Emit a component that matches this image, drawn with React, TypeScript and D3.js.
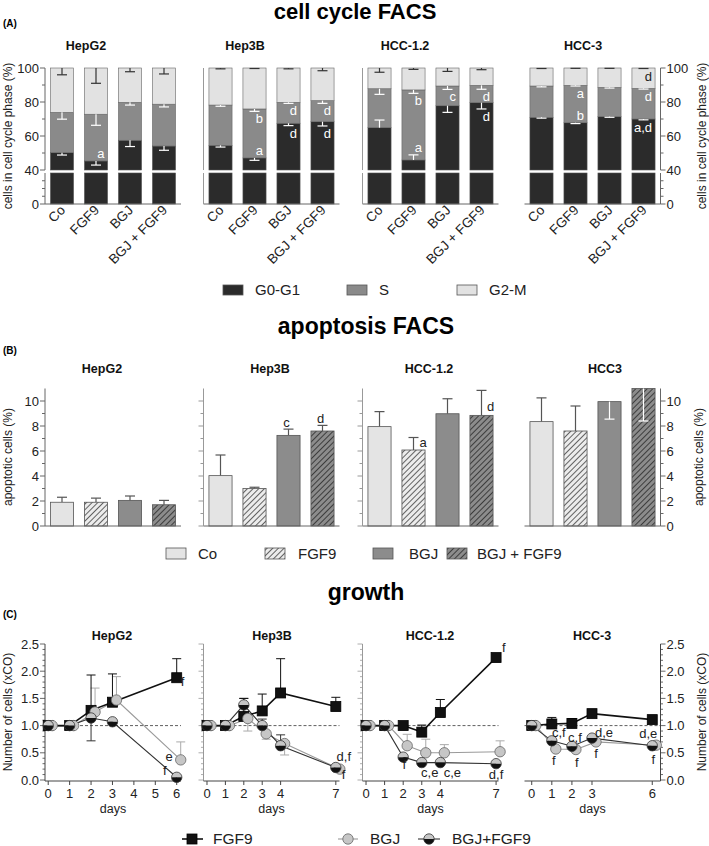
import React from "react";
import * as d3 from "d3";

// ---------------- DATA ----------------
const cellLinesA = ["HepG2", "Hep3B", "HCC-1.2", "HCC-3"];
const cellLinesB = ["HepG2", "Hep3B", "HCC-1.2", "HCC3"];
const cellLinesC = ["HepG2", "Hep3B", "HCC-1.2", "HCC-3"];
const treatments = ["Co", "FGF9", "BGJ", "BGJ + FGF9"];
const phases = ["G0-G1", "S", "G2-M"];

// (A) cell cycle phase percentages [cell line][treatment]
const g0g1Pct = [
  [50.2, 45.3, 57.5, 54.1],
  [54.5, 47.1, 67.5, 68.4],
  [64.9, 45.9, 77.8, 79.6],
  [71.0, 67.8, 71.4, 70.0],
];
const sPct = [
  [23.7, 27.5, 22.3, 24.6],
  [23.7, 28.8, 12.3, 12.4],
  [22.9, 41.2, 11.6, 10.2],
  [18.4, 22.0, 17.2, 18.0],
];
const g2mPct = [
  [26.1, 27.2, 20.2, 21.3],
  [21.8, 24.1, 20.2, 19.2],
  [12.2, 12.9, 10.6, 10.2],
  [10.6, 10.2, 11.4, 12.0],
];
// signed SD (negative = drawn downward)
const g0g1Err = [
  [-1.4, -2.4, -3.7, -2.5],
  [-1.0, -1.4, -1.4, -2.5],
  [4.5, 3.0, -3.9, -3.7],
  [-0.5, -0.5, -0.4, -0.5],
];
const sErr = [
  [-4.0, -6.5, -1.6, -1.6],
  [-0.7, -1.4, -0.6, -1.6],
  [-3.3, -2.0, -2.0, -2.3],
  [-0.5, -0.4, -0.4, -0.4],
];
const g2mErr = [
  [-4.0, -9.0, -2.2, -3.5],
  [-0.5, -0.3, -0.5, -1.6],
  [-2.5, -0.8, -2.0, -1.0],
  [-0.3, -0.2, -0.2, -0.3],
];
// significance letters: [line, treatment, phase, text, side]
const cycleLetters: [number, number, number, string, string][] = [
  [0, 1, 0, "a", "above"],
  [1, 1, 0, "a", "above"],
  [1, 1, 1, "b", "below"],
  [1, 2, 0, "d", "below"],
  [1, 2, 1, "d", "below"],
  [1, 3, 0, "d", "below"],
  [1, 3, 1, "d", "below"],
  [2, 1, 0, "a", "above"],
  [2, 1, 1, "b", "below"],
  [2, 2, 1, "c", "below"],
  [2, 3, 0, "d", "below"],
  [2, 3, 1, "d", "below"],
  [3, 1, 0, "b", "above"],
  [3, 1, 1, "a", "below"],
  [3, 3, 0, "a,d", "below"],
  [3, 3, 1, "d", "below"],
  [3, 3, 2, "d", "below"],
];

// (B) apoptotic cells (%)
const apoptosis = [
  [1.9, 1.9, 2.05, 1.7],
  [4.03, 3.0, 7.25, 7.6],
  [7.95, 6.08, 8.98, 8.85],
  [8.35, 7.6, 9.95, 11.0],
];
const apoptosisErr = [
  [0.4, 0.33, 0.35, 0.35],
  [1.65, 0.1, 0.5, 0.45],
  [1.2, 1.0, 1.2, 2.0],
  [1.9, 2.0, -1.4, -2.6],
];
const apoptosisLetters: [number, number, string, string][] = [
  [1, 2, "c", "cap"],
  [1, 3, "d", "cap"],
  [2, 1, "a", "capRight"],
  [2, 3, "d", "barRight"],
];

// (C) growth, number of cells (xCO)
const growthDays = [
  [0, 1, 2, 3, 6],
  [0, 1, 2, 3, 4, 7],
  [0, 1, 2, 3, 4, 7],
  [0, 1, 2, 3, 6],
];
const growthXTicks = [
  [0, 1, 2, 3, 4, 5, 6],
  [0, 1, 2, 3, 4, 7],
  [0, 1, 2, 3, 4, 7],
  [0, 1, 2, 3, 6],
];
const growthFGF9 = [
  [1, 1, 1.28, 1.43, 1.88],
  [1, 1, 1.17, 1.27, 1.6, 1.35],
  [1, 1, 1.0, 0.88, 1.24, 2.25],
  [1, 1.03, 1.04, 1.22, 1.11],
];
const growthFGF9Err = [
  [0, 0, 0.65, 0.52, 0.35],
  [0, 0, 0.33, 0.31, 0.63, 0.17],
  [0, 0, 0, 0.13, 0.24, 0],
  [0, 0.12, 0.09, 0.04, 0.03],
];
const growthBGJ = [
  [1, 1, 1.25, 1.47, 0.37],
  [1, 1, 1.13, 0.85, 0.67, 0.2],
  [1, 1, 0.63, 0.5, 0.5, 0.52],
  [1, 0.57, 0.56, 0.7, 0.64],
];
const growthBGJErr = [
  [0, 0, 0.44, 0.43, 0.33],
  [0, 0, -0.23, -0.1, -0.21, -0.05],
  [0, 0, 0.21, 0.25, 0.15, 0.2],
  [0, 0, 0, 0, 0],
];
const growthCombo = [
  [1, 1, 1.14, 1.07, 0.05],
  [1, 1, 1.38, 1.0, 0.63, 0.23],
  [1, 1, 0.42, 0.32, 0.32, 0.3],
  [1, 0.72, 0.62, 0.77, 0.63],
];
const growthComboErr = [
  [0, 0, -0.42, 0, 0],
  [0, 0, 0.12, 0.12, 0.2, 0],
  [0, 0, 0, 0, 0, 0],
  [0, 0, 0, 0, 0],
];
// letters: [line, series, point index, text, anchor, dx, dy]
const growthLetters: [number, string, number, string, string, number, number][] = [
  [0, "FGF9", 4, "f", "start", 4, 8],
  [0, "BGJ", 4, "e", "end", -8, 1],
  [0, "combo", 4, "f", "end", -10, -2],
  [1, "combo", 5, "d,f", "middle", 8, -6],
  [1, "BGJ", 5, "f", "start", 2, 10],
  [2, "FGF9", 5, "f", "start", 6, -6],
  [2, "combo", 2, "f", "middle", 1, 12],
  [2, "combo", 3, "c,e", "middle", 8, 14.5],
  [2, "combo", 4, "c,e", "middle", 12, 14.5],
  [2, "combo", 5, "d,f", "middle", 0, 15],
  [3, "combo", 1, "c,f", "middle", 7, -4],
  [3, "BGJ", 1, "f", "middle", -2, 16.5],
  [3, "combo", 2, "c,f", "middle", 3, -4],
  [3, "BGJ", 2, "f", "middle", 1, 17],
  [3, "combo", 3, "d,e", "middle", 12, -1],
  [3, "BGJ", 3, "f", "middle", 0, 16.5],
  [3, "combo", 4, "d,e", "middle", -4, -8],
  [3, "BGJ", 4, "f", "middle", -3, 19],
];

// ---------------- LAYOUT ----------------
const FONT = "'Liberation Sans', Arial, Helvetica, sans-serif";
const plotX0 = [45, 203.5, 362.5, 524.5];
const plotW = 136;
const phaseColors = ["#2b2b2b", "#8a8a8a", "#e2e2e2"];
const axisCol = "#666";
const textCol = "#222";

function ErrBar({ x, y1, y2, color, w = 10, sw = 1.2 }: any) {
  return (
    <g stroke={color} strokeWidth={sw}>
      <line x1={x} x2={x} y1={y1} y2={y2} />
      <line x1={x - w / 2} x2={x + w / 2} y1={y2} y2={y2} />
    </g>
  );
}

function PanelA() {
  const yUp = d3.scaleLinear().domain([40, 100]).range([170, 68]);
  const yLo = d3.scaleLinear().domain([0, 40]).range([204, 173]);
  const yA = (v: number) => (v >= 40 ? yUp(v) : yLo(v));
  const titleX = [86, 245, 405, 583];
  const els: any[] = [];
  cellLinesA.forEach((cl, i) => {
    const x0 = plotX0[i];
    const xb = d3.scaleBand().domain(treatments).range([x0, x0 + plotW]).paddingInner(0.32).paddingOuter(0.16);
    const rows = treatments.map((t, j) => ({ t, "G0-G1": g0g1Pct[i][j], S: sPct[i][j], "G2-M": g2mPct[i][j] }));
    const stack = d3.stack<any>().keys(phases)(rows);
    const errs = [g0g1Err, sErr, g2mErr];
    els.push(
      <text key={"ta" + i} x={titleX[i]} y={50} textAnchor="middle" fontWeight="bold" fontSize={12.5} fill="#111">{cl}</text>
    );
    stack.forEach((layer, k) => {
      layer.forEach((d: any, j: number) => {
        const x = xb(treatments[j])!;
        const bw = xb.bandwidth();
        if (k === 0) {
          els.push(<rect key={`lo${i}${j}`} x={x} y={yLo(40)} width={bw} height={yLo(0) - yLo(40)} fill={phaseColors[0]} stroke="#555" strokeWidth={0.6} />);
          els.push(<rect key={`b${i}${j}${k}`} x={x} y={yUp(d[1])} width={bw} height={yUp(40) - yUp(d[1])} fill={phaseColors[0]} stroke="#555" strokeWidth={0.6} />);
        } else {
          els.push(<rect key={`b${i}${j}${k}`} x={x} y={yUp(d[1])} width={bw} height={yUp(d[0]) - yUp(d[1])} fill={phaseColors[k]} stroke="#666" strokeWidth={0.6} />);
        }
      });
    });
    stack.forEach((layer, k) => {
      layer.forEach((d: any, j: number) => {
        const cx = xb(treatments[j])! + xb.bandwidth() / 2;
        const e = errs[k][i][j];
        const top = Math.min(d[1], 100);
        els.push(<ErrBar key={`e${i}${j}${k}`} x={cx} y1={yA(top)} y2={yA(top + e)} color={k < 2 ? "#fff" : "#333"} w={10} />);
      });
    });
    cycleLetters.filter((l) => l[0] === i).forEach((l, n) => {
      const [, j, k, txt, side] = l;
      const d: any = stack[k][j];
      const top = d[1];
      const e = errs[k][i][j];
      const ePx = Math.abs(yA(top + e) - yA(top));
      const right = xb(treatments[j])! + xb.bandwidth() - 3;
      const y = side === "above" ? yA(top) - 3 - (e > 0 ? ePx : 0) : yA(top) + 12 + (e < 0 ? ePx : 0);
      els.push(<text key={`l${i}${n}`} x={right} y={y} textAnchor="end" fontSize={13} fill={k === 2 ? "#222" : "#fff"}>{txt}</text>);
    });
    els.push(<line key={"xb" + i} x1={x0} x2={x0 + plotW} y1={204} y2={204} stroke={axisCol} strokeWidth={1} />);
    treatments.forEach((t, j) => {
      const cx = xb(t)! + xb.bandwidth() / 2;
      els.push(
        <text key={`xl${i}${j}`} transform={`translate(${cx + 4},${211}) rotate(-45)`} textAnchor="end" fontSize={13.5} fill={textCol}>{t}</text>
      );
    });
    if (i === 0 || i === 3) {
      const ax = i === 0 ? x0 : x0 + plotW;
      const s = i === 0 ? -1 : 1;
      els.push(<line key={"ya1" + i} x1={ax} x2={ax} y1={yUp(100)} y2={yUp(40)} stroke={axisCol} />);
      els.push(<line key={"ya2" + i} x1={ax} x2={ax} y1={yLo(40)} y2={yLo(0)} stroke={axisCol} />);
      [0, 10, 20, 30, 40, 50, 60, 70, 80, 90, 100].forEach((v) => {
        const major = [0, 40, 60, 80, 100].includes(v);
        const y = yA(v);
        els.push(<line key={`yt${i}${v}`} x1={ax} x2={ax + s * (major ? 5 : 3)} y1={y} y2={y} stroke={axisCol} />);
        if (major)
          els.push(
            <text key={`ytl${i}${v}`} x={ax + s * 6} y={y} dy="0.35em" textAnchor={i === 0 ? "end" : "start"} fontSize={13} fill={textCol}>{v}</text>
          );
      });
    } else {
      els.push(<line key={"ya1" + i} x1={x0} x2={x0} y1={yUp(100)} y2={yUp(40)} stroke="#999" />);
      els.push(<line key={"ya2" + i} x1={x0} x2={x0} y1={yLo(40)} y2={yLo(0)} stroke="#999" />);
    }
  });
  els.push(<text key="yl" transform={`translate(12,136) rotate(-90)`} textAnchor="middle" fontSize={12} fill={textCol}>cells in cell cycle phase (%)</text>);
  els.push(<text key="yr" transform={`translate(706,136) rotate(-90)`} textAnchor="middle" fontSize={12} fill={textCol}>cells in cell cycle phase (%)</text>);
  const legX = [223, 347, 457];
  phases.forEach((p, k) => {
    els.push(<rect key={"lg" + k} x={legX[k]} y={285} width={20} height={10} fill={phaseColors[k]} stroke="#555" strokeWidth={0.8} />);
    els.push(<text key={"lgt" + k} x={legX[k] + 32} y={290} dy="0.35em" fontSize={15} fill={textCol}>{p}</text>);
  });
  return <g>{els}</g>;
}

function PanelB() {
  const y = d3.scaleLinear().domain([0, 11]).range([526, 388.5]);
  const fills = ["#e4e4e4", "url(#hatchLight)", "#8c8c8c", "url(#hatchDark)"];
  const titleX = [102, 270, 429, 605];
  const els: any[] = [];
  cellLinesB.forEach((cl, i) => {
    const x0 = plotX0[i];
    const xb = d3.scaleBand().domain(treatments).range([x0, x0 + plotW]).paddingInner(0.32).paddingOuter(0.16);
    els.push(<text key={"tb" + i} x={titleX[i]} y={373} textAnchor="middle" fontWeight="bold" fontSize={12.5} fill="#111">{cl}</text>);
    treatments.forEach((t, j) => {
      const v = apoptosis[i][j];
      const x = xb(t)!;
      const bw = xb.bandwidth();
      const cx = x + bw / 2;
      const e = apoptosisErr[i][j];
      if (e > 0) els.push(<ErrBar key={`be${i}${j}`} x={cx} y1={y(v)} y2={y(v + e)} color="#555" w={10} />);
      els.push(<rect key={`br${i}${j}`} x={x} y={y(v)} width={bw} height={y(0) - y(v)} fill={fills[j]} stroke="#555" strokeWidth={0.8} />);
      if (e < 0) els.push(<ErrBar key={`be${i}${j}`} x={cx} y1={y(v)} y2={y(v + e)} color="#fff" w={10} />);
    });
    apoptosisLetters.filter((l) => l[0] === i).forEach((l, n) => {
      const [, j, txt, place] = l;
      const v = apoptosis[i][j];
      const cx = xb(treatments[j])! + xb.bandwidth() / 2;
      const capY = y(v + apoptosisErr[i][j]);
      let tx = cx, ty = capY - 2, anchor = "middle";
      if (place === "cap") { tx = cx - 2; ty = capY - 2.5; }
      if (place === "capRight") { tx = cx + 6; ty = capY + 9; anchor = "start"; }
      if (place === "barRight") { tx = cx + 9; ty = y(v) - 4; }
      els.push(<text key={`bl${i}${n}`} x={tx} y={ty} textAnchor={anchor} fontSize={13} fill={textCol}>{txt}</text>);
    });
    els.push(<line key={"bx" + i} x1={x0} x2={x0 + plotW} y1={526} y2={526} stroke={axisCol} />);
    const ax = i === 3 ? x0 + plotW : x0;
    const s = i === 3 ? 1 : -1;
    const strong = i === 0 || i === 3;
    els.push(<line key={"by" + i} x1={ax} x2={ax} y1={388.5} y2={526} stroke={strong ? axisCol : "#999"} />);
    d3.range(0, 11).forEach((v) => {
      const major = v % 2 === 0;
      els.push(<line key={`bt${i}${v}`} x1={ax} x2={ax + s * (major ? 5 : 3)} y1={y(v)} y2={y(v)} stroke={strong ? axisCol : "#999"} />);
      if (major && strong)
        els.push(<text key={`btl${i}${v}`} x={ax + s * 6} y={y(v)} dy="0.35em" textAnchor={i === 0 ? "end" : "start"} fontSize={13} fill={textCol}>{v}</text>);
    });
  });
  els.push(<text key="byl" transform={`translate(12,457) rotate(-90)`} textAnchor="middle" fontSize={12} fill={textCol}>apoptotic cells (%)</text>);
  els.push(<text key="byr" transform={`translate(703,457) rotate(-90)`} textAnchor="middle" fontSize={12} fill={textCol}>apoptotic cells (%)</text>);
  const legX = [166, 265, 373, 447];
  const legTX = [198, 298, 409, 477];
  treatments.forEach((t, j) => {
    els.push(<rect key={"bl" + j} x={legX[j]} y={548} width={20} height={11} fill={fills[j]} stroke="#555" strokeWidth={0.8} />);
    els.push(<text key={"blt" + j} x={legTX[j]} y={553.5} dy="0.35em" fontSize={15} fill={textCol}>{t}</text>);
  });
  return <g>{els}</g>;
}

function Square({ x, y }: any) {
  return <rect x={x - 5} y={y - 5} width={10} height={10} fill="#111" stroke="#000" strokeWidth={0.8} />;
}
function GrayCircle({ x, y }: any) {
  return <circle cx={x} cy={y} r={5.2} fill="#c6c6c6" stroke="#666" strokeWidth={0.8} />;
}
function HalfCircle({ x, y }: any) {
  const r = 5.2;
  return (
    <g>
      <path d={`M${x - r},${y} A${r},${r} 0 0 1 ${x + r},${y} Z`} fill="#c6c6c6" />
      <path d={`M${x - r},${y} A${r},${r} 0 0 0 ${x + r},${y} Z`} fill="#111" />
      <circle cx={x} cy={y} r={r} fill="none" stroke="#333" strokeWidth={0.8} />
    </g>
  );
}

function PanelC() {
  const y = d3.scaleLinear().domain([0, 2.5]).range([780, 644]);
  const domains = [[-0.15, 6.2], [-0.19, 7.2], [-0.19, 7.13], [-0.36, 6.41]];
  const titleX = [112, 272, 430, 592];
  const bgjShift = 4;
  const els: any[] = [];
  cellLinesC.forEach((cl, i) => {
    const x0 = plotX0[i];
    const x = d3.scaleLinear().domain(domains[i]).range([x0, x0 + plotW]);
    const days = growthDays[i];
    els.push(<text key={"tc" + i} x={titleX[i]} y={640} textAnchor="middle" fontWeight="bold" fontSize={12.5} fill="#111">{cl}</text>);
    const ax = i === 3 ? x0 + plotW : x0;
    const s = i === 3 ? 1 : -1;
    const strong = i === 0 || i === 3;
    els.push(<line key={"cy" + i} x1={ax} x2={ax} y1={644} y2={781} stroke={strong ? "#444" : "#999"} />);
    d3.range(0, 26).forEach((n) => {
      const v = n / 10;
      const major = n % 5 === 0;
      els.push(<line key={`ct${i}${n}`} x1={ax} x2={ax + s * (major ? 5 : 2.5)} y1={y(v)} y2={y(v)} stroke={strong ? "#444" : "#999"} strokeWidth={0.8} />);
      if (major && strong)
        els.push(<text key={`ctl${i}${n}`} x={ax + s * 6} y={y(v)} dy="0.35em" textAnchor={i === 0 ? "end" : "start"} fontSize={13} fill={textCol}>{v.toFixed(1)}</text>);
    });
    els.push(<line key={"cx" + i} x1={x0} x2={x0 + plotW} y1={781} y2={781} stroke="#444" />);
    growthXTicks[i].forEach((d) => {
      els.push(<line key={`cxt${i}${d}`} x1={x(d)} x2={x(d)} y1={781} y2={785} stroke="#444" />);
      els.push(<text key={`cxl${i}${d}`} x={x(d)} y={797.5} textAnchor="middle" fontSize={13} fill={textCol}>{d}</text>);
    });
    els.push(<text key={"days" + i} x={x0 + plotW / 2} y={813} textAnchor="middle" fontSize={12.5} fill={textCol}>days</text>);
    els.push(<line key={"dash" + i} x1={x0} x2={x0 + plotW} y1={y(1)} y2={y(1)} stroke="#333" strokeWidth={0.8} strokeDasharray="3,2" />);

    const line = (vals: number[], shift: number) =>
      d3.line<number>().x((_, k) => x(days[k]) + shift).y((v) => y(v))(vals) as string;
    els.push(<path key={"lb" + i} d={line(growthBGJ[i], bgjShift)} fill="none" stroke="#9a9a9a" strokeWidth={1.1} />);
    els.push(<path key={"lc" + i} d={line(growthCombo[i], 0)} fill="none" stroke="#333" strokeWidth={1.1} />);
    els.push(<path key={"lf" + i} d={line(growthFGF9[i], 0)} fill="none" stroke="#111" strokeWidth={1.6} />);

    days.forEach((d, k) => {
      const eB = growthBGJErr[i][k];
      if (eB !== 0) els.push(<ErrBar key={`ebg${i}${k}`} x={x(d) + bgjShift} y1={y(growthBGJ[i][k])} y2={y(growthBGJ[i][k] + eB)} color="#aaa" w={9} sw={1} />);
      const eC = growthComboErr[i][k];
      if (eC !== 0) els.push(<ErrBar key={`ecb${i}${k}`} x={x(d)} y1={y(growthCombo[i][k])} y2={y(growthCombo[i][k] + eC)} color="#333" w={9} sw={1} />);
      const eF = growthFGF9Err[i][k];
      if (eF !== 0) els.push(<ErrBar key={`efg${i}${k}`} x={x(d)} y1={y(growthFGF9[i][k])} y2={y(growthFGF9[i][k] + eF)} color="#111" w={9} sw={1} />);
    });
    days.forEach((d, k) => {
      els.push(<Square key={`sq${i}${k}`} x={x(d)} y={y(growthFGF9[i][k])} />);
    });
    days.forEach((d, k) => {
      els.push(<GrayCircle key={`gc${i}${k}`} x={x(d) + bgjShift} y={y(growthBGJ[i][k])} />);
    });
    days.forEach((d, k) => {
      els.push(<HalfCircle key={`hc${i}${k}`} x={x(d)} y={y(growthCombo[i][k])} />);
    });
    growthLetters.filter((l) => l[0] === i).forEach((l, n) => {
      const [, ser, k, txt, anchor, dx, dy] = l;
      const vals = ser === "FGF9" ? growthFGF9[i] : ser === "BGJ" ? growthBGJ[i] : growthCombo[i];
      const px = x(days[k]) + (ser === "BGJ" ? bgjShift : 0);
      els.push(<text key={`gl${i}${n}`} x={px + dx} y={y(vals[k]) + dy} textAnchor={anchor} fontSize={13} fill={textCol}>{txt}</text>);
    });
  });
  els.push(<text key="cyl" transform={`translate(12,712) rotate(-90)`} textAnchor="middle" fontSize={12} fill={textCol}>Number of cells (xCO)</text>);
  els.push(<text key="cyr" transform={`translate(706,712) rotate(-90)`} textAnchor="middle" fontSize={12} fill={textCol}>Number of cells (xCO)</text>);
  const ly = 839;
  els.push(<line key="lg1" x1={182} x2={203} y1={ly} y2={ly} stroke="#111" strokeWidth={1.6} />);
  els.push(<Square key="lgs" x={192} y={ly} />);
  els.push(<text key="lgt1" x={213} y={ly} dy="0.35em" fontSize={15.5} fill={textCol}>FGF9</text>);
  els.push(<line key="lg2" x1={338} x2={358} y1={ly} y2={ly} stroke="#9a9a9a" strokeWidth={1.1} />);
  els.push(<GrayCircle key="lgc" x={348} y={ly} />);
  els.push(<text key="lgt2" x={370} y={ly} dy="0.35em" fontSize={15.5} fill={textCol}>BGJ</text>);
  els.push(<line key="lg3" x1={418} x2={440} y1={ly} y2={ly} stroke="#333" strokeWidth={1.1} />);
  els.push(<HalfCircle key="lgh" x={429} y={ly} />);
  els.push(<text key="lgt3" x={452} y={ly} dy="0.35em" fontSize={15.5} fill={textCol}>BGJ+FGF9</text>);
  return <g>{els}</g>;
}

export default function App() {
  return (
    <svg width={709} height={846} style={{ position: "absolute", left: 0, top: 0, background: "#fff" }} fontFamily={FONT}>
      <defs>
        <pattern id="hatchLight" width={4} height={4} patternUnits="userSpaceOnUse" patternTransform="rotate(45)">
          <rect width={4} height={4} fill="#ececec" />
          <line x1={0} y1={0} x2={0} y2={4} stroke="#333" strokeWidth={1.5} />
        </pattern>
        <pattern id="hatchDark" width={4} height={4} patternUnits="userSpaceOnUse" patternTransform="rotate(45)">
          <rect width={4} height={4} fill="#8c8c8c" />
          <line x1={0} y1={0} x2={0} y2={4} stroke="#222" strokeWidth={1.5} />
        </pattern>
      </defs>
      <rect width={709} height={846} fill="#fff" />
      <text x={355} y={19} textAnchor="middle" fontWeight="bold" fontSize={22} fill="#000">cell cycle FACS</text>
      <text x={3} y={27} fontWeight="bold" fontSize={10} fill="#000">(A)</text>
      <text x={366} y={334} textAnchor="middle" fontWeight="bold" fontSize={23} fill="#000">apoptosis FACS</text>
      <text x={3} y={354} fontWeight="bold" fontSize={10} fill="#000">(B)</text>
      <text x={366} y={600} textAnchor="middle" fontWeight="bold" fontSize={23} fill="#000">growth</text>
      <text x={3} y={618} fontWeight="bold" fontSize={10} fill="#000">(C)</text>
      <PanelA />
      <PanelB />
      <PanelC />
    </svg>
  );
}
